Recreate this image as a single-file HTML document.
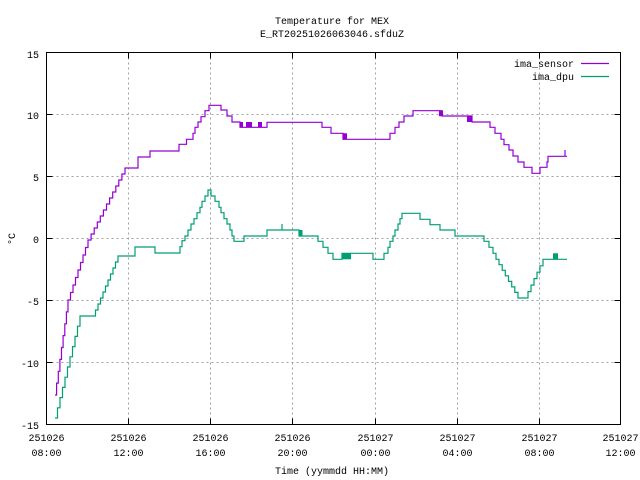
<!DOCTYPE html>
<html><head><style>
html,body{margin:0;padding:0;background:#fff;}
svg{display:block;font-family:"Liberation Mono","DejaVu Sans Mono",monospace;font-size:10px;}
</style></head><body>
<svg id="s" width="640" height="480" viewBox="0 0 640 480" xmlns="http://www.w3.org/2000/svg">
<rect width="640" height="480" fill="#fff"/>
<g stroke="#a0a0a0" stroke-width="1" stroke-dasharray="2,3">
<line x1="128.5" y1="52.5" x2="128.5" y2="424.5"/>
<line x1="210.5" y1="52.5" x2="210.5" y2="424.5"/>
<line x1="292.5" y1="52.5" x2="292.5" y2="424.5"/>
<line x1="375.5" y1="52.5" x2="375.5" y2="424.5"/>
<line x1="457.5" y1="52.5" x2="457.5" y2="424.5"/>
<line x1="539.5" y1="52.5" x2="539.5" y2="424.5"/>
<line x1="46.5" y1="114.5" x2="620.5" y2="114.5"/>
<line x1="46.5" y1="176.5" x2="620.5" y2="176.5"/>
<line x1="46.5" y1="238.5" x2="620.5" y2="238.5"/>
<line x1="46.5" y1="300.5" x2="620.5" y2="300.5"/>
<line x1="46.5" y1="362.5" x2="620.5" y2="362.5"/>
</g>
<g stroke="#000" stroke-width="1" id="ticks"></g>
<rect x="46.5" y="52.5" width="574" height="372" fill="none" stroke="#000" stroke-width="1"/>
<path id="pp" fill="none" stroke="#9400d3" stroke-width="1.2"/>
<path id="gp" fill="none" stroke="#009e73" stroke-width="1.2"/>
<g fill="#9400d3">
<rect x="240" y="122" width="3" height="5.5"/><rect x="246" y="122" width="6" height="5.5"/><rect x="258" y="122" width="4" height="5.5"/>
<rect x="343" y="133.3" width="4" height="6"/><rect x="439" y="110.7" width="4" height="5.5"/><rect x="467" y="116" width="5" height="6"/>
</g>
<g fill="#009e73">
<rect x="342" y="253.3" width="9" height="6"/><rect x="299" y="230" width="3.5" height="6"/><rect x="553" y="253.3" width="5" height="6"/>
</g>
<path d="M565,156.3V150" stroke="#9400d3" stroke-width="1.2" fill="none"/>
<path d="M282,230V224" stroke="#009e73" stroke-width="1.2" fill="none"/>
<g text-anchor="end">
<text x="39" y="58">15</text><text x="39" y="119">10</text><text x="39" y="181">5</text>
<text x="39" y="243">0</text><text x="39" y="305">-5</text><text x="39" y="367">-10</text><text x="39" y="429">-15</text>
<text x="574" y="67">ima_sensor</text><text x="574" y="80">ima_dpu</text>
</g>
<line x1="581" y1="63.5" x2="609" y2="63.5" stroke="#9400d3" stroke-width="1.2"/>
<line x1="581" y1="76.5" x2="609" y2="76.5" stroke="#009e73" stroke-width="1.2"/>
<g text-anchor="middle" id="xl">
<text x="332" y="24">Temperature for MEX</text>
<text x="332" y="37">E_RT20251026063046.sfduZ</text>
<text x="332" y="474">Time (yymmdd HH:MM)</text>
</g>
<text transform="translate(15,239) rotate(-90)" text-anchor="middle">°C</text>
</svg>
<script>
var xs=[46.5,128.5,210.5,292.5,375.5,457.5,539.5,620.5];
var d=["251026","251026","251026","251026","251027","251027","251027","251027"];
var t=["08:00","12:00","16:00","20:00","00:00","04:00","08:00","12:00"];
var xl=document.getElementById('xl'),tk=document.getElementById('ticks'),ns="http://www.w3.org/2000/svg",s="";
for(var i=0;i<8;i++){
 var a=document.createElementNS(ns,'text');a.setAttribute('x',xs[i]);a.setAttribute('y',441);a.textContent=d[i];xl.appendChild(a);
 var b=document.createElementNS(ns,'text');b.setAttribute('x',xs[i]);b.setAttribute('y',456);b.textContent=t[i];xl.appendChild(b);
 s+="M"+xs[i]+",424.5v-6M"+xs[i]+",52.5v6";
}
for(var j=0;j<7;j++){var y=52.5+62*j;s+="M46.5,"+y+"h6M620.5,"+y+"h-6";}
var tp=document.createElementNS(ns,'path');tp.setAttribute('d',s);tk.appendChild(tp);
function st(x0,y0,x1,y1,n){var r="";for(var k=1;k<=n;k++){r+="H"+(x0+(x1-x0)*k/n).toFixed(1)+"V"+(y0+(y1-y0)*k/n).toFixed(1);}return r;}
var P="M55,395"+st(55,395,68,300,8)+st(68,300,88,240,8)+st(88,240,125,168,12)+
"H138V157H150V151H179V144.3H186.5V139.3H193V133.3H195V127.3H198V122H201V116.7H205V110.7H209V105.3H221V110H227V116H232V122H240V127.3H267V122.3H322V127.3H331V133.3H343V139.3H390V133.3H395V127.3H399V122H404V116H413V110.7H442V116H472V122H490V127.3H495V133.3H501V139.3H504V144.7H509V150H513V156H518V162H524V167.3H532V173.3H540V167.3H547V162H548V156.3H567";
var G="M55,418"+st(55,418,80,316,10)+"H93"+st(93,316,118,256,10)+
"H135V247H155V253H180V246.7H182V240.7H185V236H188V230H191V224H194V218.7H197V212.7H200V207.3H202V201.3H205V196H208V190H211V196H215V201.3H219V207.3H221V212.7H224V218.7H227V224H230V230H232V236H234V241.3H244V236H267V230H299V236H318V241.3H323V247.3H328V253.3H333V259.3H342V253.3H373V259.3H384V253.3H388V247.3H390V241.3H393V236H395V230H398V224H400V218.7H402V213.3H420V219.3H430V224.7H440V230H455V236H484V241.3H489V247.3H493V253.3H496V259.3H499V264.7"+
st(499,264.7,518,298,6)+"H525"+st(525,298,543,259.3,6)+"H567";
document.getElementById('pp').setAttribute('d',P);
document.getElementById('gp').setAttribute('d',G);
</script>
</body></html>
